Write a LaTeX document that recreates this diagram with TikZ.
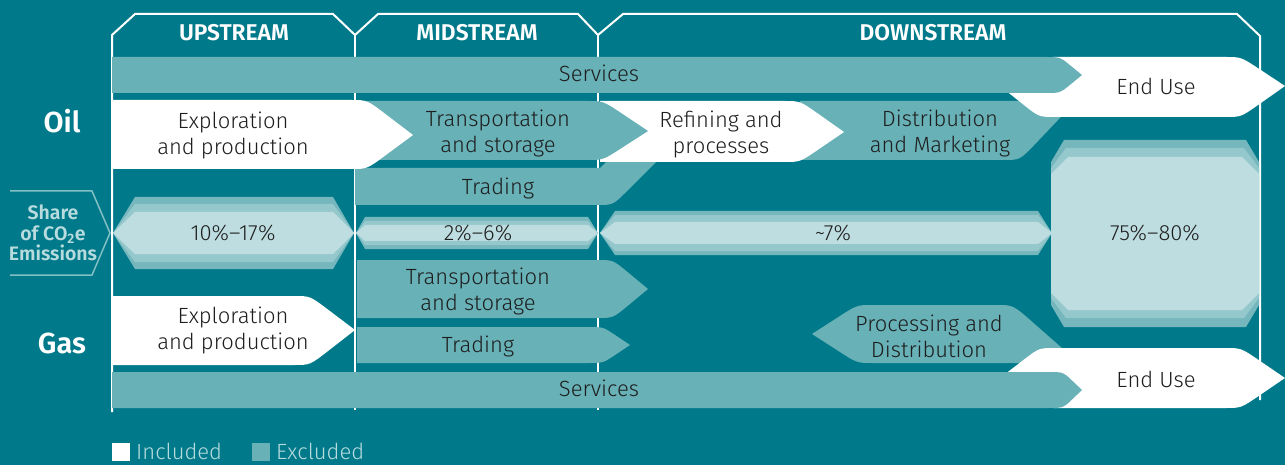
\documentclass[tikz,border=0pt]{standalone}
\usepackage{fontspec}
\setmainfont{Fira Sans Light}[BoldFont={Fira Sans SemiBold}]
\usetikzlibrary{calc}
\definecolor{bgteal}{RGB}{0,122,138}
\definecolor{excl}{RGB}{103,177,183}
\definecolor{emin}{RGB}{190,221,224}
\definecolor{emmid}{RGB}{149,200,204}
\definecolor{emout}{RGB}{117,183,189}
\definecolor{txtdark}{RGB}{30,30,30}
\definecolor{sharecol}{RGB}{184,219,222}
\definecolor{shareline}{RGB}{130,192,198}

% right-pointing bar: colour, left, shoulder, tip, top, middle, bottom
\newcommand{\rchev}[7]{%
  \fill[#1] (#2,#5) -- ($(#3,#5)+(-16,0)$) .. controls (#3,#5) .. ($(#3,#5)!.4!(#4,#6)$) -- (#4,#6)
    -- ($(#3,#7)!.4!(#4,#6)$) .. controls (#3,#7) .. ($(#3,#7)+(-16,0)$) -- (#2,#7) -- cycle;}
% end use: top, middle, bottom
\newcommand{\usechev}[3]{%
  \fill[white] (1000,#2) -- ($(1039,#1)!.4!(1000,#2)$) .. controls (1039,#1) .. (1055,#1) -- (1225,#1)
    .. controls (1241,#1) .. ($(1241,#1)!.4!(1285,#2)$) -- (1285,#2) -- ($(1241,#3)!.4!(1285,#2)$)
    .. controls (1241,#3) .. (1225,#3) -- (1055,#3) .. controls (1039,#3) .. ($(1039,#3)!.4!(1000,#2)$) -- cycle;}
\newcommand{\emhex}[7]{%
  \fill[#1] (#2,233) -- (#3,#6) -- (#4,#6) -- (#5,233) -- (#4,#7) -- (#3,#7) -- cycle;}
\newcommand{\emoct}[5]{%
  \fill[#1] (1051,{#2+#5}) -- ({1051+#4},#2) -- ({1259-#4},#2) -- (1259,{#2+#5})
    -- (1259,{#3-#5}) -- ({1259-#4},#3) -- ({1051+#4},#3) -- (1051,{#3-#5}) -- cycle;}

\begin{document}
\begin{tikzpicture}[x=1pt, y=-1pt,
    lbl/.style={text=txtdark, align=center, font=\fontsize{22}{26}\selectfont},
    head/.style={text=white, font=\fontsize{22.8}{24}\selectfont\bfseries},
    fuel/.style={text=white, font=\fontsize{29}{32}\selectfont\bfseries},
    sharetxt/.style={text=sharecol, align=center, font=\fontsize{19.5}{20.5}\selectfont\bfseries},
    legtxt/.style={text=sharecol, anchor=base west, inner sep=0, font=\fontsize{22}{26}\selectfont}]
    \useasboundingbox (0,0) rectangle (1285,465);
    \fill[bgteal] (0,0) rectangle (1285,465);

    \draw[white, line width=2] (112,412) -- (112,35) -- (135,14) -- (333,14) -- (355,35) -- (378,14) -- (578,14)
        -- (598,35) -- (623,14) -- (1237,14) -- (1260,36) -- (1260,400);
    \draw[white, line width=2] (355,35) -- (355,410) (598,35) -- (598,410);

    \draw[shareline, line width=1.5] (10,191) -- (92,191) -- (110,233) -- (92,275) -- (10,275);

    % oil
    \fill[excl] (355,168) -- (600,168) -- (608,160) -- (658,160) -- ($(658,160)!.7!(613,205)$)
        .. controls (613,205) .. (597,205) -- (355,205) -- cycle;
    \fill[excl] (800,101) -- (1076,101) -- ($(1076,101)!.7!(1020,160)$) .. controls (1020,160) .. (1004,160)
        -- (800,160) -- cycle;
    \rchev{white}{600}{800}{844}{101}{132}{162}
    \rchev{excl}{355}{603}{648}{101}{131}{160}
    \rchev{white}{112}{367}{413}{100}{135}{169}
    \usechev{57}{86}{117}
    \rchev{excl}{112}{1060}{1082}{57}{75}{93}

    % emissions
    \emhex{emout}{113}{135}{333}{354}{197}{269}
    \emhex{emmid}{113}{135}{333}{354}{204}{262}
    \emhex{emin}{113}{135}{333}{354}{212}{254}
    \emhex{emout}{356}{365}{588}{598}{217}{249}
    \emhex{emmid}{356}{365}{588}{598}{221}{245}
    \emhex{emin}{356}{365}{588}{598}{225}{241}
    \emhex{emout}{600}{615}{1038}{1052}{211}{255}
    \emhex{emmid}{600}{615}{1038}{1052}{215}{251}
    \emhex{emin}{600}{615}{1038}{1052}{222}{244}
    \emoct{emout}{140}{327}{13}{22}
    \emoct{emmid}{148}{318}{15}{20}
    \emoct{emin}{157}{310}{17}{17}

    % gas
    \fill[excl] (812,334) -- ($(857,305)!.4!(812,334)$) .. controls (857,305) .. (873,305) -- (997,305)
        .. controls (1013,305) .. ($(1013,305)!.3!(1079,363)$) -- (1079,363) -- (873,363)
        .. controls (857,363) .. ($(857,363)!.4!(812,334)$) -- cycle;
    \usechev{348}{378}{408}
    \rchev{excl}{112}{1063}{1082}{372}{390}{408}
    \rchev{excl}{357}{603}{630}{327}{345}{363}
    \rchev{excl}{357}{613}{648}{260}{289}{318}
    \rchev{white}{112}{310}{355}{296}{330}{365}

    \node[head] (up) at (234,33) {UPSTREAM};
    \node[head] (mid) at (477,33) {MIDSTREAM};
    \node[head] (down) at (933,33) {DOWNSTREAM};
    \node[fuel] (oil) at (62,121) {Oil};
    \node[fuel] (gas) at (62,343) {Gas};
    \node[sharetxt] (share) at (53,233) {Share\\of CO\textsubscript{2}e\\Emissions};

    \node[lbl] (servoil) at (599,73) {Services};
    \node[lbl] (useoil) at (1156,86) {End Use};
    \node[lbl] (explore) at (233,135) {Exploration\\and production};
    \node[lbl] (transoil) at (498,133) {Transportation\\and storage};
    \node[lbl] (tradeoil) at (498,188) {Trading};
    \node[lbl] (refine) at (721,134) {Refining and\\processes};
    \node[lbl] (distrib) at (940,133) {Distribution\\and Marketing};

    \node[lbl] (pctup) at (233,233) {10\%--17\%};
    \node[lbl] (pctmid) at (478,233) {2\%--6\%};
    \node[lbl] (pctdown) at (833,233) {\textasciitilde7\%};
    \node[lbl] (pctuse) at (1155,233) {75\%--80\%};

    \node[lbl] (transgas) at (478,291) {Transportation\\and storage};
    \node[lbl] (tradegas) at (478,346) {Trading};
    \node[lbl] (exploregas) at (233,330) {Exploration\\and production};
    \node[lbl] (process) at (929,336) {Processing and\\Distribution};
    \node[lbl] (servgas) at (599,388) {Services};
    \node[lbl] (usegas) at (1156,379) {End Use};

    \fill[white] (112,443) rectangle (130,461);
    \node[legtxt] (incl) at (136,459) {Included};
    \fill[excl] (252,443) rectangle (270,461);
    \node[legtxt] (excluded) at (276,459) {Excluded};
\end{tikzpicture}
\end{document}
